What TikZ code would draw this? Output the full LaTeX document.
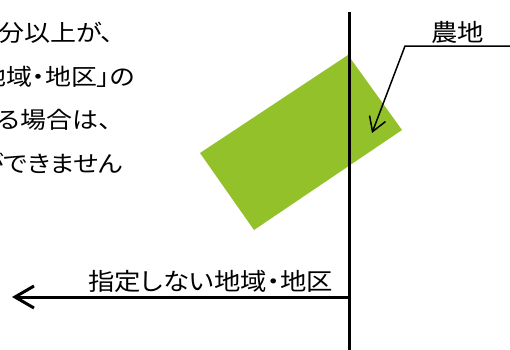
\documentclass[tikz,border=0pt]{standalone}
\usepackage{fontspec}
\usetikzlibrary{arrows.meta}
\newfontfamily\jp[FakeStretch=1.13,RawFeature={+palt}]{Noto Sans CJK JP}
\newfontfamily\jplab[FakeStretch=1.1,RawFeature={+palt}]{Noto Sans CJK JP}
\definecolor{farmgreen}{RGB}{147,193,41}
\tikzset{
  txt/.style={inner sep=0pt, anchor=base west, font=\jp\fontsize{23pt}{23pt}\selectfont, text=black},
  labtxt/.style={inner sep=0pt, anchor=base west, font=\jplab\fontsize{24pt}{24pt}\selectfont, text=black},
  thickline/.style={line width=3pt},
  callout/.style={line width=1.5pt, -{Straight Barb[length=14pt,width=17pt]}},
}
\begin{document}
\begin{tikzpicture}[x=1pt,y=-1pt]
\useasboundingbox (0,0) rectangle (510,349);
\clip (0,0) rectangle (510,349);
% paragraph (cut at the left edge)
\node[txt] (l1) at (-2,41.5) {分以上が、};
\node[txt] (l2) at (-20,85) {地域・地区」の};
\node[txt] (l3) at (-3,128.5) {る場合は、};
\node[txt] (l4) at (-22,172) {ができません};
% farmland
\fill[farmgreen] (348,55) -- (402,130) -- (254,230) -- (200,153) -- cycle;
% boundary line
\coordinate (vtop) at (349,12);
\coordinate (vbot) at (349,352);
\draw[thickline] (vtop) -- (vbot);
% horizontal arrow
\coordinate (hstart) at (350,297);
\coordinate (hend) at (12,297);
\draw[thickline, -{Straight Barb[length=19pt,width=22pt]}] (hstart) -- (hend);
\node[labtxt] (lab) at (88,290) {指定しない地域・地区};
% callout
\node[labtxt] (farm) at (431,41.5) {農地};
\coordinate (cright) at (512,46);
\coordinate (cknee) at (405,46);
\coordinate (ctip) at (372,133);
\draw[callout] (cright) -- (cknee) -- (ctip);
\end{tikzpicture}
\end{document}
